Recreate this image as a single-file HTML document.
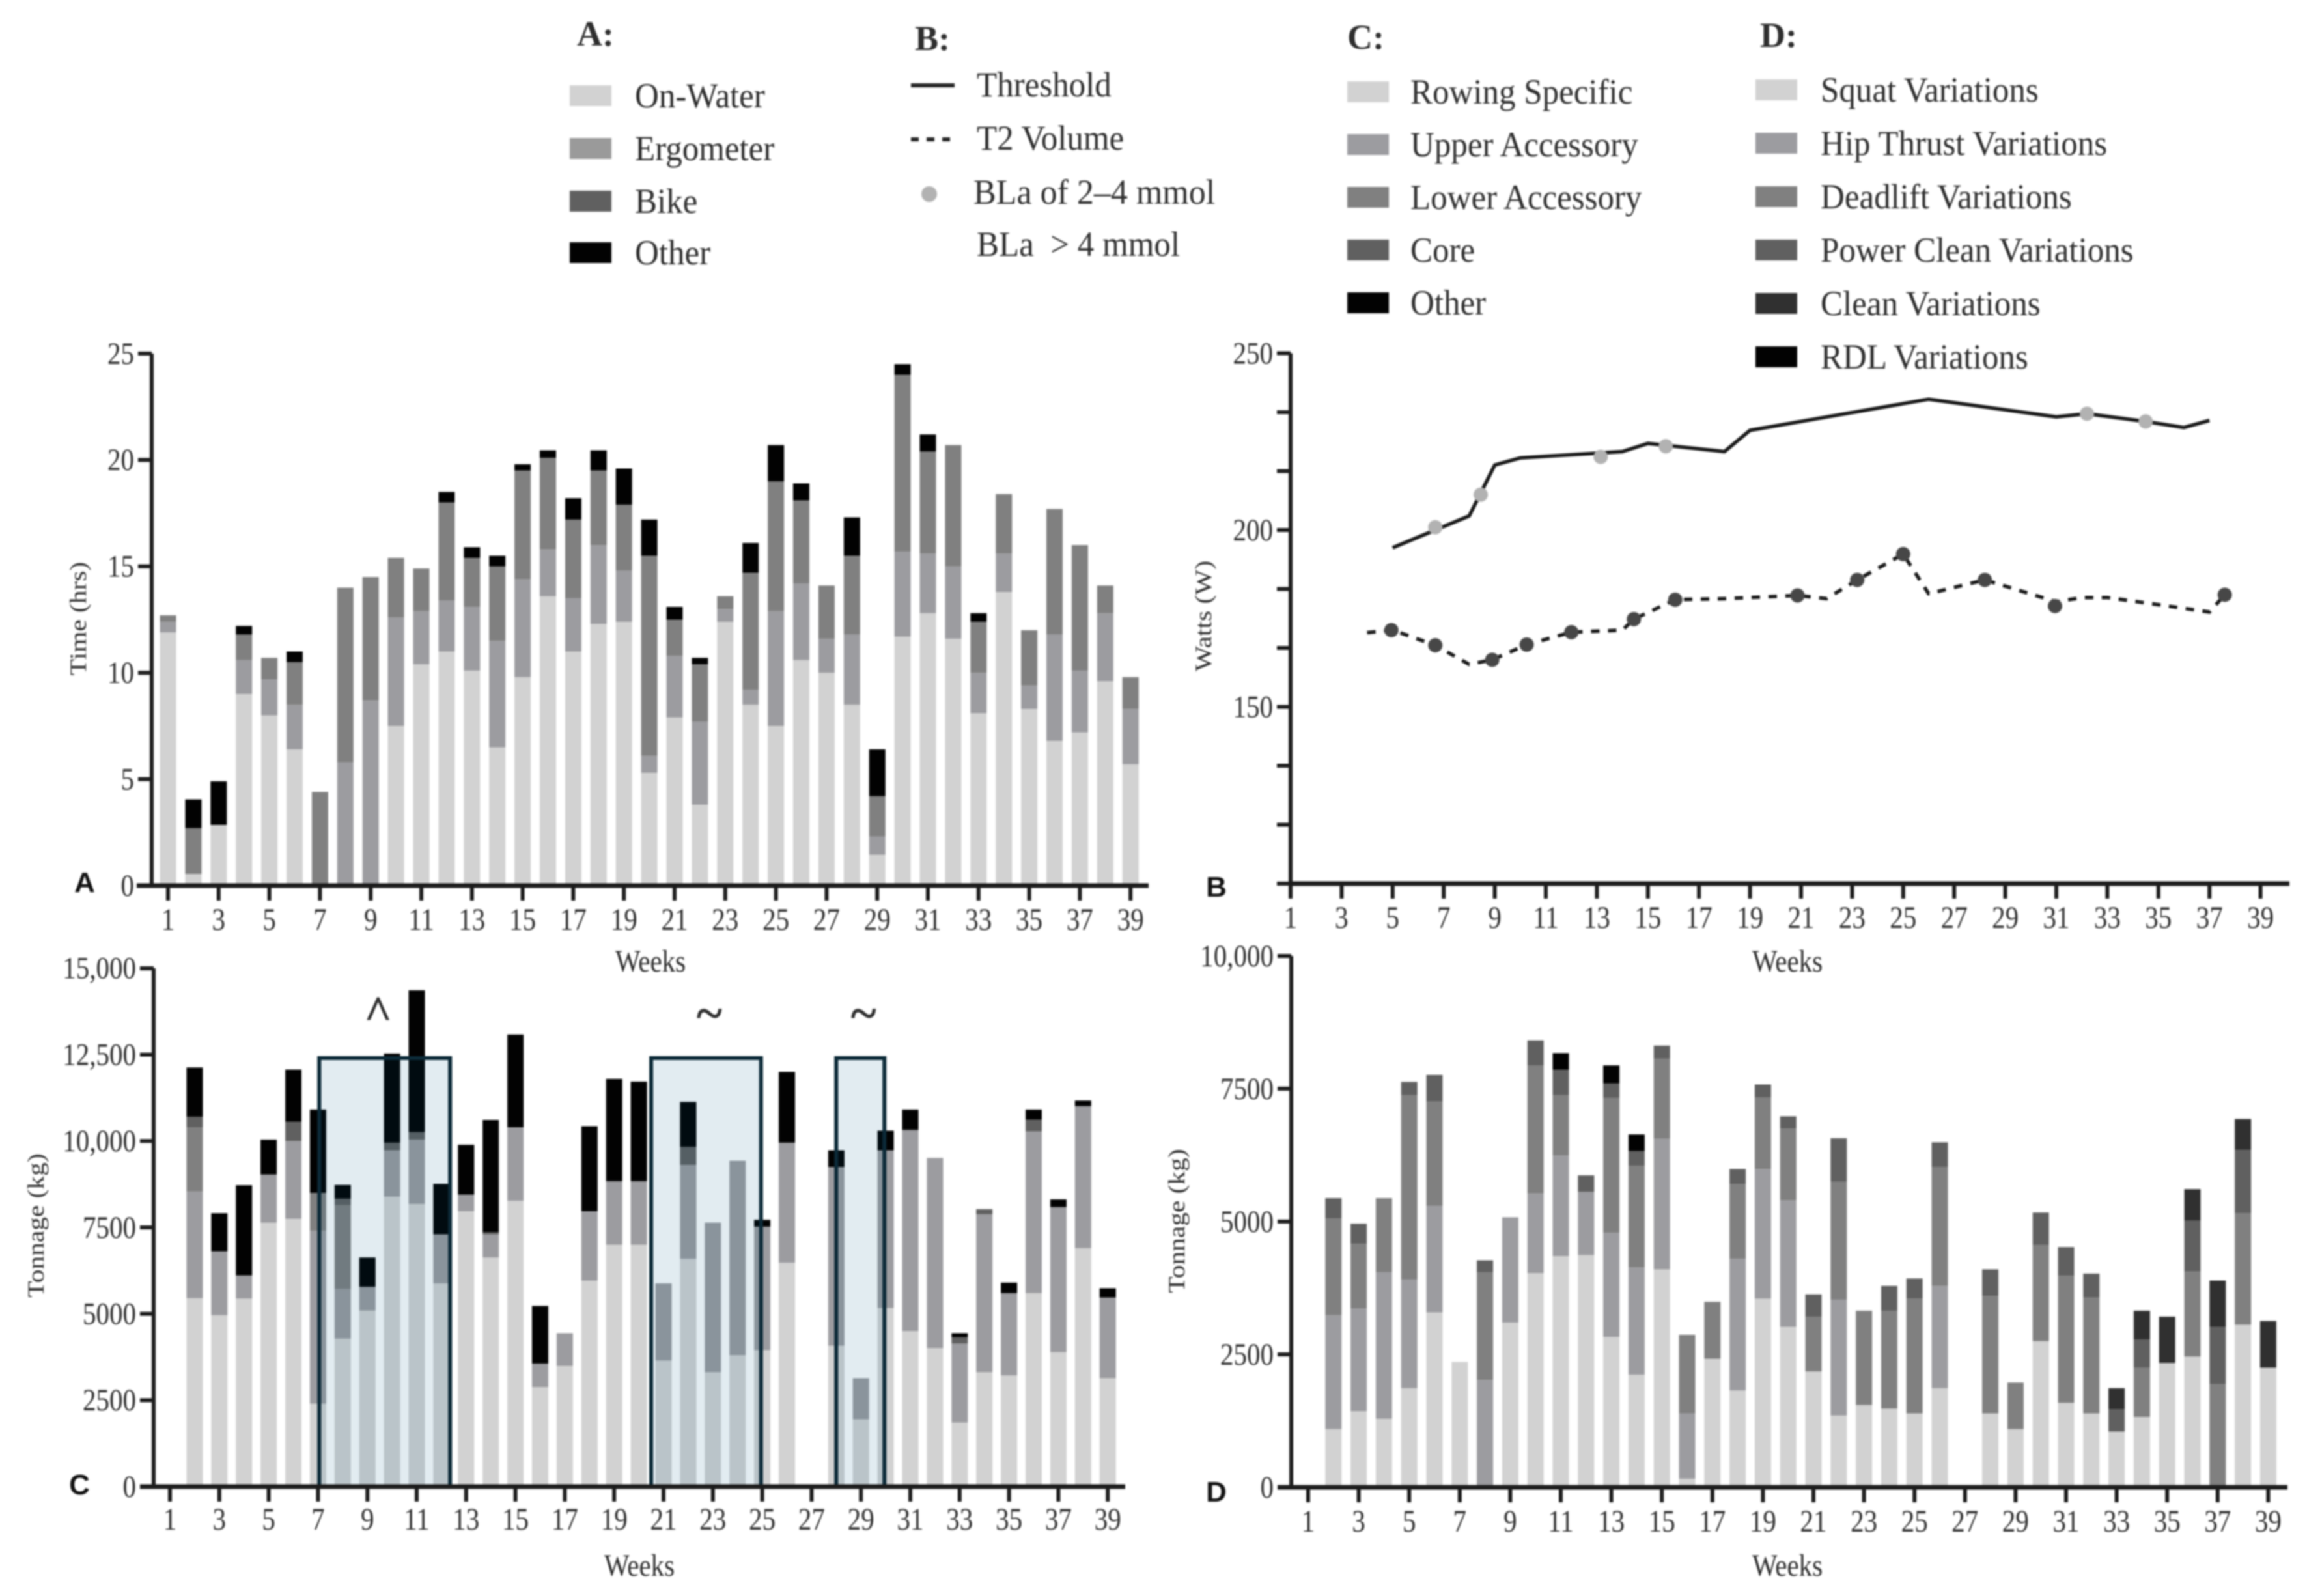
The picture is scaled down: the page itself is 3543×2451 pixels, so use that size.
<!DOCTYPE html>
<html lang="en">
<head>
<meta charset="utf-8">
<title>Training load charts</title>
<style>
html,body{margin:0;padding:0;background:#fff}
#figure{display:block;width:3543px;height:2451px;filter:blur(1.4px);font-family:"Liberation Serif",serif}
</style>
</head>
<body>
<svg id="figure" xmlns="http://www.w3.org/2000/svg" width="3543" height="2451" viewBox="0 0 3543 2451">
<rect x="0" y="0" width="3543" height="2451" fill="#fff"/>
<g id="legends"></g>
<g id="panelA"></g>
<g id="panelB"></g>
<g id="panelC"></g>
<g id="panelD"></g>
</svg>
<script>
/* ---------- shared tick data ---------- */
const weekTicks = [1,3,5,7,9,11,13,15,17,19,21,23,25,27,29,31,33,35,37,39];

/* ---------- panel A data: hours per week ---------- */
const aOnWater = [11.9,0.55,2.85,9,8,6.4,0,0,0,7.5,10.4,11,10.1,6.5,9.8,13.6,11,12.3,12.4,5.3,7.9,3.8,12.4,8.5,7.5,10.6,10,8.5,1.45,11.7,12.8,11.6,8.1,13.8,8.3,6.8,7.2,9.6,5.7];
const aErgometer = [0.5,0,0,1.6,1.7,2.1,0,5.8,8.7,5.1,2.5,2.4,3,5,4.6,2.2,2.5,3.7,2.4,0.8,2.9,3.9,0.6,0.7,5.4,3.6,1.6,3.3,0.85,4,2.8,3.4,1.9,1.8,1.1,5,2.9,3.2,2.6];
const aBike = [0.3,2.15,0,1.2,1,2,4.4,8.2,5.8,2.8,2,4.6,2.3,3.5,5.1,4.3,3.7,3.5,3.1,9.4,1.7,2.7,0.6,5.5,6.1,3.9,2.5,3.7,1.9,8.3,4.8,5.7,2.4,2.8,2.6,5.9,5.9,1.3,1.5];
const aOther = [0,1.35,2.05,0.4,0,0.5,0,0,0,0,0,0.5,0.5,0.5,0.3,0.35,1,0.95,1.7,1.7,0.6,0.3,0,1.4,1.7,0.8,0,1.8,2.2,0.5,0.8,0,0.4,0,0,0,0,0,0];
const aYTicks = [0,5,10,15,20,25];
const aYLabels = ["0","5","10","15","20","25"];

/* ---------- panel B data: watts ---------- */
const thresholdWeeks = [5,8,9,10,14,15,18,19,26,31,32.2,34.5,36,37];
const thresholdWatts = [195,204,218.4,220.4,222.2,224.5,222.2,228.2,237,232,232.9,230.7,229,231];
const t2Weeks = [4,5,6.67,8,8.9,10.25,12,14,14.45,16.07,18,20.86,22,23.2,25,26,28.2,31,32,33,35,37,37.6];
const t2Watts = [171,171.7,167.4,162,163.3,167.6,171.1,171.7,174.8,180.3,180.6,181.5,180.6,185.9,193.2,182,185.9,179.7,180.9,180.9,178.9,176.8,181.7];
const grayDotWeeks = [6.67,8.45,13.15,15.7,32.2,34.5];
const grayDotWatts = [200.8,210,220.7,223.7,232.9,230.7];
const darkDotWeeks = [4.95,6.67,8.9,10.25,12,14.45,16.07,20.86,23.2,25,28.2,30.95,37.6];
const darkDotWatts = [171.7,167.4,163.3,167.6,171.1,174.8,180.3,181.5,185.9,193.2,185.9,178.5,181.7];
const bYTicks = [100,116.67,133.33,150,166.67,183.33,200,216.67,233.33,250];
const bYLabeled = [150,200,250];
const bYLabels = ["150","200","250"];

/* ---------- panel C data: tonnage (kg) ---------- */
const cRowing = [0,5450,4960,5440,7640,7750,2400,4280,5090,8390,8180,5880,7970,6630,8270,2880,3490,5960,7000,7000,3650,6590,3310,3800,3950,6480,0,4080,1950,5170,4500,4010,1850,3310,3220,5600,3890,6900,3140];
const cUpper = [0,3090,1850,670,1390,2250,5000,1440,690,1340,1860,1420,480,670,2130,680,950,2010,1840,1840,2230,2720,4330,5630,3570,3470,0,5170,1190,4560,5820,5500,2290,4570,2380,4680,4200,4110,2330];
const cLower = [0,1860,0,0,0,0,1100,2430,0,0,0,0,0,0,0,0,0,0,0,0,0,0,0,0,0,0,0,0,0,0,0,0,0,0,0,0,0,0,0];
const cCore = [0,300,0,0,0,560,0,180,0,220,220,0,0,60,0,0,0,0,0,0,0,520,0,0,0,0,0,0,0,0,0,0,180,150,0,340,0,0,0];
const cOther = [0,1430,1100,2610,1010,1510,2410,400,850,2580,4100,1460,1440,3250,2680,1670,0,2460,2960,2880,0,1300,0,0,200,2050,0,480,0,570,590,0,120,0,300,290,220,160,270];
const cYTicks = [0,2500,5000,7500,10000,12500,15000];
const cYLabels = ["0","2500","5000","7500","10,000","12,500","15,000"];
const cBoxStartWeeks = [7.05,20.5,28];
const cBoxEndWeeks = [12.35,24.95,29.95];
const cBoxMarks = ["^","~","~"];
const cBoxTop = 12400;

/* ---------- panel D data: tonnage (kg) ---------- */
const dSquat = [0,1095,1430,1290,1865,3290,2360,0,3100,4030,4350,4370,2830,2120,4100,160,2420,1825,3550,3020,2180,1350,1550,1480,1390,1865,0,1390,1095,2750,1590,1390,1050,1325,2340,2460,0,3060,2250];
const dHip = [0,2145,1940,2760,2045,2010,0,2020,1980,1500,1900,1190,1960,2020,2460,1230,0,2475,2440,2380,0,2180,0,0,0,1925,0,0,0,0,0,0,0,0,0,0,0,0,0];
const dDeadlift = [0,1820,1210,1390,3470,1960,0,2030,0,2410,1130,0,2540,1910,1510,1480,1070,1410,1350,1350,1030,2220,1770,1840,2160,2240,0,2210,875,1810,2390,2180,0,925,0,1600,1940,2100,0];
const dPower = [0,380,380,0,250,500,0,220,0,470,480,310,270,280,240,0,0,280,240,230,420,820,0,470,380,460,0,500,0,610,540,450,420,530,0,960,1080,1190,0];
const dClean = [0,0,0,0,0,0,0,0,0,0,0,0,0,0,0,0,0,0,0,0,0,0,0,0,0,0,0,0,0,0,0,0,395,540,870,590,870,580,880];
const dRdl = [0,0,0,0,0,0,0,0,0,0,310,0,340,310,0,0,0,0,0,0,0,0,0,0,0,0,0,0,0,0,0,0,0,0,0,0,0,0,0];
const dYTicks = [0,2500,5000,7500,10000];
const dYLabels = ["0","2500","5000","7500","10,000"];

/* ---------- legend text ---------- */
const legendALabels = ["On-Water","Ergometer","Bike","Other"];
const legendCLabels = ["Rowing Specific","Upper Accessory","Lower Accessory","Core","Other"];
const legendDLabels = ["Squat Variations","Hip Thrust Variations","Deadlift Variations","Power Clean Variations","Clean Variations","RDL Variations"];

/* ---------- styling ---------- */
const NS = "http://www.w3.org/2000/svg";
const GREY_LIGHT = "#d2d2d2", GREY_MID = "#9c9ca0", GREY_DEEP = "#808080", GREY_DARK = "#606060", GREY_NEAR = "#303030", BLACK = "#020202";
const AXIS = "#1c1c1c", TEXT = "#2e2e2e";

function node(parent, tag, attrs) {
  const el = document.createElementNS(NS, tag);
  for (const k in attrs) el.setAttribute(k, attrs[k]);
  parent.appendChild(el);
  return el;
}
/* horizontal stretched text, cy is the vertical centre of digits */
function hText(parent, x, cy, str, size, anchor, weight, stretch) {
  const sy = stretch || 1.15;
  const el = node(parent, "text", {
    transform: `translate(${x},${cy + 0.335 * size * sy}) scale(1,${sy})`,
    "font-size": size, "text-anchor": anchor || "middle", fill: TEXT,
    "font-family": '"Liberation Serif", serif', "font-weight": weight || "normal"
  });
  el.textContent = str;
  return el;
}
function vText(parent, x, cy, str) {
  const el = node(parent, "text", {
    transform: `translate(${x + 12},${cy}) rotate(-90) scale(1.15,1)`,
    "font-size": 36, "text-anchor": "middle", fill: TEXT,
    "font-family": '"Liberation Serif", serif'
  });
  el.textContent = str;
  return el;
}
function panelLetter(parent, x, cy, str) {
  const el = node(parent, "text", {
    x: x, y: cy + 16, "font-size": 44, "font-weight": "bold", "text-anchor": "middle",
    fill: "#111", "font-family": '"Liberation Sans", sans-serif'
  });
  el.textContent = str;
  return el;
}
function drawAxes(g, o, xFn, yFn, yTicks, yLabeled, yLabels) {
  const yLine = node(g, "line", { x1: o.axisX, x2: o.axisX, y1: yFn(o.yMaxVal), y2: o.axisBottom, stroke: AXIS, "stroke-width": 6 });
  
  
  const xLine = node(g, "line", { x1: o.xStart, x2: o.xEnd, y1: o.axisY, y2: o.axisY, stroke: AXIS, "stroke-width": 7 });
  
  
  yTicks.forEach(function (v) {
    const t = node(g, "line", { x1: o.axisX - 21, x2: o.axisX, y1: yFn(v), y2: yFn(v), stroke: AXIS, "stroke-width": 6 });
    
    
  });
  yLabeled.forEach(function (v, i) {
    const t = hText(g, o.axisX - 27, yFn(v), yLabels[i], 41, "end");
    
    
  });
  weekTicks.forEach(function (w) {
    const t = node(g, "line", { x1: xFn(w), x2: xFn(w), y1: o.axisY, y2: o.axisY + 23, stroke: AXIS, "stroke-width": 6 });
    
    
    const l = hText(g, xFn(w), o.labelY, String(w), 41);
    
    
  });
  const xt = hText(g, o.weeksX, o.weeksY, "Weeks", 41);
  
  
  const yt = vText(g, o.titleX, o.titleY, o.title);
  
  
  const pl = panelLetter(g, o.letterX, o.letterY, o.letter);
  
  
}
function drawStack(g, seriesList, colors, names, xFn, yFn) {
  const BAR_W = 25;
  seriesList[0].forEach(function (_, i) {
    const week = i + 1;
    let cum = 0;
    seriesList.forEach(function (series, s) {
      const v = series[i];
      if (v > 0) {
        const top = yFn(cum + v), bottom = yFn(cum);
        const r = node(g, "rect", { x: xFn(week) - BAR_W / 2, y: top, width: BAR_W, height: bottom - top, fill: colors[s] });
        
        
      }
      cum += v;
    });
  });
}

/* ---------- panel A ---------- */
const xA = function (w) { return 258 + (w - 1) * 38.9; };
const yA = function (v) { return 1360 - v * 32.68; };
(function () {
  const g = document.getElementById("panelA");
  drawStack(g, [aOnWater, aErgometer, aBike, aOther], [GREY_LIGHT, GREY_MID, GREY_DEEP, BLACK], ["on-water", "ergometer", "bike", "other"], xA, yA);
  drawAxes(g, { axisX: 233, axisY: 1360, axisBottom: 1360, xStart: 210, xEnd: 1764, yMaxVal: 25, labelY: 1412, weeksX: 999, weeksY: 1476, titleX: 120, titleY: 950, title: "Time (hrs)", letterX: 130, letterY: 1354, letter: "A" }, xA, yA, aYTicks, aYTicks, aYLabels);
})();

/* ---------- panel B ---------- */
const xB = function (w) { return 1982 + (w - 1) * 39.2; };
const yB = function (v) { return 1357 - (v - 100) * 5.43; };
(function () {
  const g = document.getElementById("panelB");
  const tp = thresholdWeeks.map(function (w, i) { return xB(w) + "," + yB(thresholdWatts[i]); }).join(" ");
  const l1 = node(g, "polyline", { points: tp, fill: "none", stroke: "#1a1a1a", "stroke-width": 5.5, "stroke-linejoin": "round" });
  
  
  const t2p = t2Weeks.map(function (w, i) { return xB(w) + "," + yB(t2Watts[i]); }).join(" ");
  const l2 = node(g, "polyline", { points: t2p, fill: "none", stroke: "#1a1a1a", "stroke-width": 5.5, "stroke-dasharray": "13 13" });
  
  
  grayDotWeeks.forEach(function (w, i) {
    const c = node(g, "circle", { cx: xB(w), cy: yB(grayDotWatts[i]), r: 11, fill: "#b2b2b2" });
    
    
  });
  darkDotWeeks.forEach(function (w, i) {
    const c = node(g, "circle", { cx: xB(w), cy: yB(darkDotWatts[i]), r: 11, fill: "#474747" });
    
    
  });
  drawAxes(g, { axisX: 1982, axisY: 1357, axisBottom: 1380, xStart: 1982, xEnd: 3516, yMaxVal: 250, labelY: 1409, weeksX: 2745, weeksY: 1476, titleX: 1848, titleY: 946, title: "Watts (W)", letterX: 1868, letterY: 1361, letter: "B" }, xB, yB, bYTicks, bYLabeled, bYLabels);
})();

/* ---------- panel C ---------- */
const xC = function (w) { return 261 + (w - 1) * 37.9; };
const yC = function (v) { return 2283 - v * 0.05307; };
(function () {
  const g = document.getElementById("panelC");
  drawStack(g, [cRowing, cUpper, cLower, cCore, cOther], [GREY_LIGHT, GREY_MID, GREY_DEEP, GREY_DARK, BLACK], ["rowing-specific", "upper-accessory", "lower-accessory", "core", "other"], xC, yC);
  cBoxStartWeeks.forEach(function (w, i) {
    const x1 = xC(w), x2 = xC(cBoxEndWeeks[i]);
    const r = node(g, "rect", { x: x1, y: yC(cBoxTop), width: x2 - x1, height: yC(0) - yC(cBoxTop), fill: "rgba(0,90,130,0.115)", stroke: "#0c2a38", "stroke-width": 6 });
    
    
    const m = hText(g, (x1 + x2) / 2 + (i === 0 ? -10 : 5), 1556, cBoxMarks[i], 75, "middle", "bold", 1);
    
    
  });
  drawAxes(g, { axisX: 236, axisY: 2283, axisBottom: 2283, xStart: 215, xEnd: 1728, yMaxVal: 15000, labelY: 2333, weeksX: 982, weeksY: 2404, titleX: 55, titleY: 1882, title: "Tonnage (kg)", letterX: 122, letterY: 2279, letter: "C" }, xC, yC, cYTicks, cYTicks, cYLabels);
})();

/* ---------- panel D ---------- */
const xD = function (w) { return 2009 + (w - 1) * 38.8; };
const yD = function (v) { return 2284 - v * 0.0816; };
(function () {
  const g = document.getElementById("panelD");
  drawStack(g, [dSquat, dHip, dDeadlift, dPower, dClean, dRdl], [GREY_LIGHT, GREY_MID, GREY_DEEP, GREY_DARK, GREY_NEAR, BLACK], ["squat", "hip-thrust", "deadlift", "power-clean", "clean", "rdl"], xD, yD);
  drawAxes(g, { axisX: 1983, axisY: 2284, axisBottom: 2284, xStart: 1962, xEnd: 3513, yMaxVal: 10000, labelY: 2336, weeksX: 2745, weeksY: 2404, titleX: 1807, titleY: 1875, title: "Tonnage (kg)", letterX: 1868, letterY: 2290, letter: "D" }, xD, yD, dYTicks, dYTicks, dYLabels);
})();

/* ---------- legends ---------- */
(function () {
  const g = document.getElementById("legends");
  const LEG_SIZE = 51, LEG_STRETCH = 1.06;
  function heading(x, cy, str) {
    const el = hText(g, x, cy, str, 54, "start", "bold", 1);
    
    
  }
  function swatchEntry(sx, tx, cy, label, color) {
    const s = node(g, "rect", { x: sx, y: cy - 16, width: 64, height: 32, fill: color });
    
    
    const t = hText(g, tx, cy, label, LEG_SIZE, "start", "normal", LEG_STRETCH);
    
    
  }
  heading(886, 52, "A:");
  heading(1405, 59, "B:");
  heading(2069, 57, "C:");
  heading(2703, 54, "D:");
  const aColors = [GREY_LIGHT, "#9a9a9a", GREY_DARK, BLACK];
  const aYs = [147, 228, 309, 388];
  legendALabels.forEach(function (l, i) { swatchEntry(875, 975, aYs[i], l, aColors[i]); });
  const cColors = [GREY_LIGHT, GREY_MID, GREY_DEEP, GREY_DARK, BLACK];
  const cYs = [141, 222, 303, 384, 465];
  legendCLabels.forEach(function (l, i) { swatchEntry(2069, 2166, cYs[i], l, cColors[i]); });
  const dColors = [GREY_LIGHT, GREY_MID, GREY_DEEP, GREY_DARK, GREY_NEAR, BLACK];
  const dYs = [138, 220, 302, 384, 466, 548];
  legendDLabels.forEach(function (l, i) { swatchEntry(2696, 2796, dYs[i], l, dColors[i]); });

  const sl = node(g, "line", { x1: 1399, x2: 1466, y1: 131, y2: 131, stroke: "#222", "stroke-width": 6 });
  
  
  const dl = node(g, "line", { x1: 1399, x2: 1466, y1: 214, y2: 214, stroke: "#222", "stroke-width": 6, "stroke-dasharray": "12 12" });
  
  
  const dot = node(g, "circle", { cx: 1427, cy: 298, r: 12, fill: "#b2b2b2" });
  
  
  const t1 = hText(g, 1500, 130, "Threshold", LEG_SIZE, "start", "normal", LEG_STRETCH);
  
  
  const t2 = hText(g, 1500, 212, "T2 Volume", LEG_SIZE, "start", "normal", LEG_STRETCH);
  
  
  const t3 = hText(g, 1495, 295, "BLa of 2\u20134 mmol", 52, "start", "normal", 1.04);
  
  
  const t4 = hText(g, 1500, 375, "BLa \u00a0> 4 mmol", LEG_SIZE, "start", "normal", LEG_STRETCH);
  
  
})();
</script>
</body>
</html>
